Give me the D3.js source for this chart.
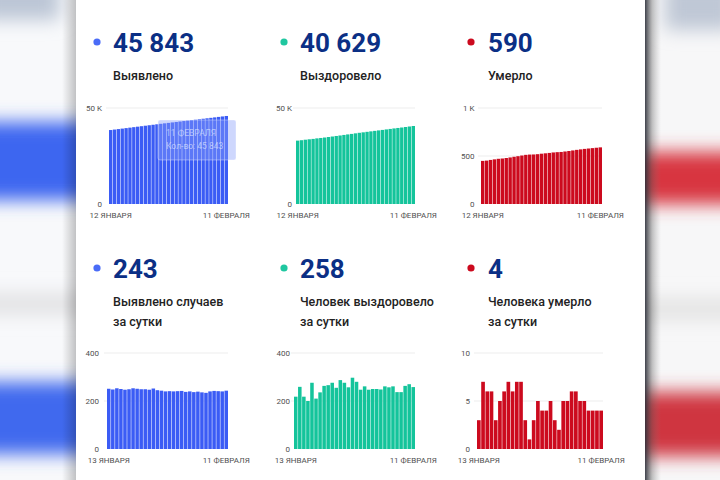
<!DOCTYPE html>
<html><head><meta charset="utf-8">
<script src="https://cdn.jsdelivr.net/npm/d3@7"></script>
<style>
body{margin:0;background:#fff;}
svg{display:block;font-family:Roboto,"Noto Sans",sans-serif;}
</style>
</head><body>
<svg id="c" width="720" height="480"></svg>
<script>
// ---------- DATA ----------
const monthsGen = ["ЯНВАРЯ","ФЕВРАЛЯ"];
const daysTotal = d3.timeDay.range(new Date(2021,0,12), new Date(2021,1,12)); // 12 Jan – 11 Feb
const daysDaily = d3.timeDay.range(new Date(2021,0,13), new Date(2021,1,12)); // 13 Jan – 11 Feb

const casesTotal = [38522,38773,39021,39274,39524,39771,40020,40273,40524,40773,41022,41269,41521,41766,42009,42249,42490,42730,42971,43213,43451,43691,43928,44167,44403,44637,44877,45119,45360,45600,45843];
const recoveredTotal = [33008,33226,33485,33703,33903,34179,34389,34625,34888,35154,35430,35685,35972,36248,36505,36802,37082,37329,37590,37837,38087,38337,38585,38846,39103,39364,39601,39838,40101,40371,40629];
const deathsTotal = [449,452,459,465,471,474,479,485,492,498,505,512,515,516,519,524,528,532,537,540,542,547,552,558,564,569,574,578,582,586,590];

const casesDaily = [251,248,253,250,247,249,253,251,249,249,247,252,245,243,240,241,240,241,242,238,240,237,239,236,234,240,242,241,240,243];
const recoveredDaily = [218,259,218,200,276,210,236,263,266,276,255,287,276,257,297,280,247,261,247,250,250,248,261,257,261,237,237,263,270,258];
const deathsDaily = [3,7,6,6,3,5,6,7,6,7,7,3,1,3,5,4,4,5,3,2,5,5,6,6,5,5,4,4,4,4];

const headlineNumbers = ["45 843","40 629","590","243","258","4"];
const headlineLabels = [["Выявлено"],["Выздоровело"],["Умерло"],["Выявлено случаев","за сутки"],["Человек выздоровело","за сутки"],["Человека умерло","за сутки"]];
const tickMaxTotal = [50000,50000,1000];
const tickMaxDaily = [400,400,10];
const tooltipLines = ["11 ФЕВРАЛЯ","Кол-во: 45 843"];

// ---------- STYLE / LAYOUT ----------
const colors = ["#3b5cf5","#14c49b","#cc0a1e"];
const dotColors = ["#4a6cf7","#1fc7a0","#cc0a1e"];
const numColor = "#0b2f85";
const colText = [113,300,488];
const dotX = [97,284,471];
const fmtDay = d => d.getDate() + " " + monthsGen[d.getMonth()];
const fmtY = v => v >= 1000 ? (v/1000) + " K" : String(v);

const svg = d3.select("#c");
const defs = svg.append("defs");
defs.append("filter").attr("id","blur").attr("x","-50%").attr("y","-50%").attr("width","200%").attr("height","200%")
  .append("feGaussianBlur").attr("stdDeviation",9);
const gL = defs.append("linearGradient").attr("id","shL");
gL.append("stop").attr("offset","0").attr("stop-color","#000").attr("stop-opacity",0);
gL.append("stop").attr("offset","1").attr("stop-color","#000").attr("stop-opacity",0.22);
const gR = defs.append("linearGradient").attr("id","shR");
gR.append("stop").attr("offset","0").attr("stop-color","#2a2d38").attr("stop-opacity",0.9);
gR.append("stop").attr("offset","0.45").attr("stop-color","#555").attr("stop-opacity",0.35);
gR.append("stop").attr("offset","1").attr("stop-color","#888").attr("stop-opacity",0);
defs.append("clipPath").attr("id","clipL").append("rect").attr("x",0).attr("y",0).attr("width",76).attr("height",480);
defs.append("clipPath").attr("id","clipR").append("rect").attr("x",645).attr("y",0).attr("width",75).attr("height",480);

// background: blurred flags
const left = svg.append("g").attr("clip-path","url(#clipL)");
left.append("rect").attr("x",0).attr("y",0).attr("width",76).attr("height",480).attr("fill","#f8f9fb");
const lb = left.append("g").attr("filter","url(#blur)");
lb.append("rect").attr("x",-20).attr("y",-20).attr("width",80).attr("height",40).attr("fill","#bcc6d6");
lb.append("rect").attr("x",-30).attr("y",122).attr("width",130).attr("height",78).attr("fill","#3d66f0");
lb.append("rect").attr("x",-30).attr("y",293).attr("width",130).attr("height",22).attr("fill","#e2e2e4");
lb.append("rect").attr("x",-30).attr("y",382).attr("width",130).attr("height",72).attr("fill","#4169ee");
left.append("rect").attr("x",62).attr("y",0).attr("width",14).attr("height",480).attr("fill","url(#shL)");

const right = svg.append("g").attr("clip-path","url(#clipR)");
right.append("rect").attr("x",645).attr("y",0).attr("width",75).attr("height",480).attr("fill","#f7f7f8");
const rb = right.append("g").attr("filter","url(#blur)");
rb.append("rect").attr("x",665).attr("y",-20).attr("width",70).attr("height",50).attr("fill","#bfc8d6");
rb.append("rect").attr("x",630).attr("y",152).attr("width",120).attr("height",52).attr("fill","#d8343f");
rb.append("rect").attr("x",630).attr("y",298).attr("width",120).attr("height",22).attr("fill","#e4e4e4");
rb.append("rect").attr("x",630).attr("y",392).attr("width",120).attr("height",64).attr("fill","#cf3441");
right.append("rect").attr("x",645).attr("y",0).attr("width",16).attr("height",480).attr("fill","url(#shR)");

// card
svg.append("rect").attr("x",76).attr("y",0).attr("width",569).attr("height",480).attr("fill","#fff");

// headlines
const heads = headlineNumbers.map((n,i)=>({n, lab: headlineLabels[i], col: i%3, row: Math.floor(i/3)}));
const hg = svg.append("g").selectAll("g").data(heads).join("g")
  .attr("transform", d => `translate(0,${d.row ? 226 : 0})`);
hg.append("circle").attr("cx", d => dotX[d.col]).attr("cy", 42).attr("r", 3.6).attr("fill", d => dotColors[d.col]);
hg.append("text").attr("x", d => colText[d.col]).attr("y", 52).attr("font-size", 26).attr("font-weight", 700)
  .attr("fill", numColor).text(d => d.n);
hg.each(function(d){
  d3.select(this).selectAll("text.lab").data(d.lab).join("text").attr("class","lab")
    .attr("x", colText[d.col]).attr("y", (t,j) => 80 + j*20).attr("font-size", 12.5).attr("font-weight", 500)
    .attr("fill", "#222").text(t => t);
});

// charts
const panels = [
  {vals: casesTotal, days: daysTotal, max: tickMaxTotal[0], col: 0, x0: 109, x1: 228, yt: 108, yb: 204, lx: 102},
  {vals: recoveredTotal, days: daysTotal, max: tickMaxTotal[1], col: 1, x0: 296, x1: 415, yt: 108, yb: 204, lx: 292},
  {vals: deathsTotal, days: daysTotal, max: tickMaxTotal[2], col: 2, x0: 481, x1: 602, yt: 108, yb: 204, lx: 474.5},
  {vals: casesDaily, days: daysDaily, max: tickMaxDaily[0], col: 0, x0: 107, x1: 228, yt: 353, yb: 449, lx: 99},
  {vals: recoveredDaily, days: daysDaily, max: tickMaxDaily[1], col: 1, x0: 294, x1: 415, yt: 353, yb: 449, lx: 290},
  {vals: deathsDaily, days: daysDaily, max: tickMaxDaily[2], col: 2, x0: 477, x1: 603, yt: 353, yb: 449, lx: 470}
];

panels.forEach((p, idx) => {
  const g = svg.append("g");
  const x = d3.scaleBand().domain(p.days).range([p.x0, p.x1]).paddingInner(0.13).paddingOuter(0);
  const y = d3.scaleLinear().domain([0, p.max]).range([p.yb, p.yt]);
  const ticks = idx < 2 ? [0, p.max] : [0, p.max/2, p.max];
  g.append("g").selectAll("line").data(ticks.filter(t => t > 0)).join("line")
    .attr("x1", p.x0 - 3).attr("x2", p.x1).attr("y1", y).attr("y2", y)
    .attr("stroke", "#ededed").attr("stroke-width", 1);
  const ya = g.append("g").attr("transform", `translate(${p.lx},0)`)
    .call(d3.axisLeft(y).tickValues(ticks).tickFormat(fmtY).tickSize(0).tickPadding(0));
  ya.select(".domain").remove();
  ya.selectAll("text").attr("font-size", 8).attr("fill", "#505050").attr("font-family", "Roboto, sans-serif");
  g.append("g").selectAll("rect").data(p.vals).join("rect")
    .attr("x", (v, i) => x(p.days[i])).attr("width", x.bandwidth())
    .attr("y", v => y(v)).attr("height", v => p.yb - y(v))
    .attr("fill", colors[p.col]);
  const xa = g.append("g").attr("transform", `translate(0,${p.yb})`)
    .call(d3.axisBottom(x).tickValues([p.days[0], p.days[p.days.length-1]]).tickFormat(fmtDay).tickSize(0).tickPadding(8));
  xa.select(".domain").remove();
  xa.selectAll("text").attr("font-size", 8).attr("fill", "#505050").attr("font-family", "Roboto, sans-serif");

  if (idx === 0) {
    // hover tooltip on the last bar
    const last = p.days[p.days.length-1];
    const tx = x(last) + x.bandwidth() + 8;
    const tt = g.append("g");
    tt.append("rect").attr("x", tx - 78).attr("y", y(p.vals[p.vals.length-1]) + 4).attr("width", 78).attr("height", 40)
      .attr("rx", 2).attr("fill", "#8aa0fa").attr("fill-opacity", 0.42)
      .attr("stroke", "#fff").attr("stroke-opacity", 0.35);
    tt.selectAll("text").data(tooltipLines).join("text")
      .attr("x", tx - 70).attr("y", (t, j) => y(p.vals[p.vals.length-1]) + 20 + j*13)
      .attr("font-size", 8.5).attr("fill", "#dfe6ff").attr("fill-opacity", 0.7).text(t => t);
  }
});
</script>
</body></html>
